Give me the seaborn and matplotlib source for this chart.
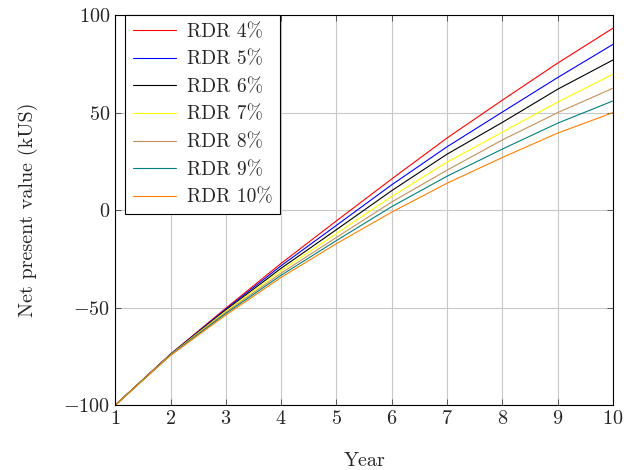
import numpy as np
import pandas as pd
import seaborn as sns
import matplotlib.pyplot as plt

# -------------------------------
# Data
# -------------------------------
years = [1, 2, 3, 4, 5, 6, 7, 8, 9, 10]
rdr_labels = ['RDR 4%', 'RDR 5%', 'RDR 6%', 'RDR 7%', 'RDR 8%', 'RDR 9%', 'RDR 10%']

npv_4 = [-100, -73.8, -50.3, -27.3, -5.5, 16.0, 37.0, 56.4, 75.4, 93.3]
npv_5 = [-100, -73.9, -50.8, -28.5, -7.8, 13.0, 32.5, 50.3, 68.0, 85.0]
npv_6 = [-100, -74.0, -51.3, -29.8, -10.0, 10.0, 28.7, 45.0, 62.0, 77.0]
npv_7 = [-100, -74.1, -51.8, -31.0, -12.0, 7.0, 24.6, 40.0, 55.4, 69.7]
npv_8 = [-100, -74.2, -52.4, -32.3, -14.0, 4.2, 20.5, 36.0, 50.0, 62.5]
npv_9 = [-100, -74.3, -53.0, -33.4, -15.6, 1.8, 17.4, 31.3, 44.6, 56.0]
npv_10 = [-100, -74.5, -53.8, -34.5, -17.2, -1.0, 13.8, 27.0, 39.5, 50.0]

series = [npv_4, npv_5, npv_6, npv_7, npv_8, npv_9, npv_10]
colors = ['#ff0000', '#0000ff', '#000000', '#ffff00', '#c8905a', '#008080', '#ff8000']

rows = []
for label, vals in zip(rdr_labels, series):
    for yr, v in zip(years, vals):
        rows.append({'Year': yr, 'NPV': v, 'RDR': label})
df = pd.DataFrame(rows)

# -------------------------------
# Plot
# -------------------------------
sns.set_style('ticks')
plt.rcParams['font.family'] = ['cmr10', 'DejaVu Serif']
plt.rcParams['mathtext.fontset'] = 'cm'
plt.rcParams['axes.formatter.use_mathtext'] = True

fig = plt.figure(figsize=(6.4, 4.7), dpi=100)
ax = fig.add_axes([0.18, 0.138, 0.778, 0.830])

sns.lineplot(
    data=df, x='Year', y='NPV', hue='RDR',
    palette=dict(zip(rdr_labels, colors)),
    linewidth=0.8, ax=ax
)

ax.set_xlim(1, 10)
ax.set_ylim(-100, 100)
ax.set_xticks(years)
ax.set_yticks([-100, -50, 0, 50, 100])
ax.grid(True, color='#c8c8c8', linewidth=0.8)
ax.set_axisbelow(True)
ax.tick_params(direction='in', top=True, right=True, labelsize=14.5, length=4, width=0.6, color='#404040')
for s in ax.spines.values():
    s.set_linewidth(0.8)
    s.set_color('black')

ax.set_xlabel('Year', fontsize=14.5, labelpad=17)
ax.set_ylabel('Net present value (kUS)', fontsize=14.5, labelpad=18)

leg = ax.legend(loc='upper left', bbox_to_anchor=(0.02, 1.0), fontsize=14,
                frameon=True, fancybox=False, handlelength=2.2,
                borderaxespad=0, labelspacing=0.5, borderpad=0.4,
                handletextpad=0.57)
leg.get_frame().set_edgecolor('black')
leg.get_frame().set_linewidth(0.8)
leg.get_frame().set_alpha(1)

plt.savefig('out.png', dpi=100)
